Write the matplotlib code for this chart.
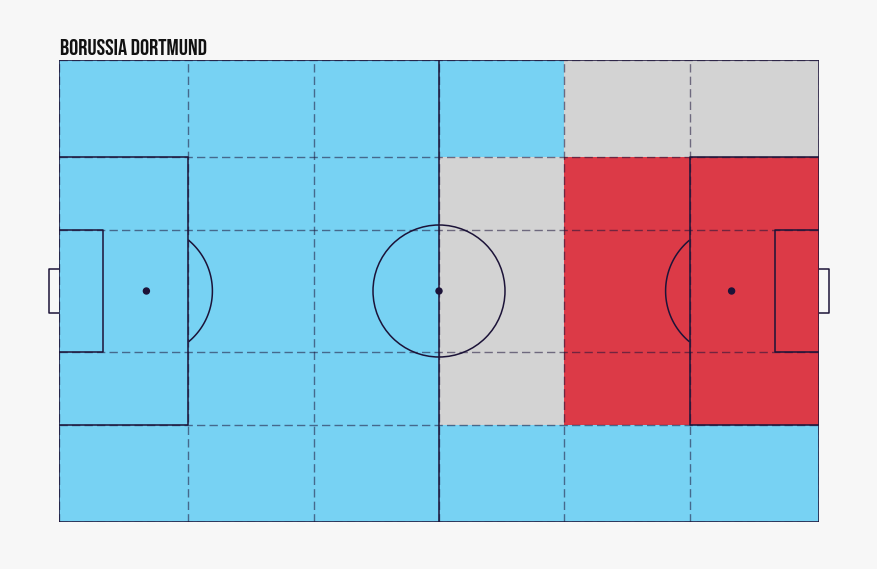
import numpy as np
import matplotlib
matplotlib.use("Agg")
import matplotlib.pyplot as plt
from matplotlib.patches import Rectangle, Ellipse
from matplotlib import font_manager

# Team and zone layout (Opta 0-100 pitch coordinates)
team_name = "BORUSSIA DORTMUND"
zone_x_edges = [0, 17, 33.5, 50, 66.5, 83, 100]
zone_y_edges = [0, 21.1, 78.9, 100]          # bottom lane, central block, top lane
lane_lines_y = [21.1, 36.8, 63.2, 78.9]

# Zone control per lane (bottom -> top), per vertical zone (left -> right)
zone_control = [
    ["Dortmund", "Dortmund", "Dortmund", "Dortmund", "Dortmund", "Dortmund"],
    ["Dortmund", "Dortmund", "Dortmund", "Contested", "Opponent", "Opponent"],
    ["Dortmund", "Dortmund", "Dortmund", "Dortmund", "Contested", "Contested"],
]
control_colors = {"Dortmund": "#77D2F3", "Contested": "#D3D3D3", "Opponent": "#DC3A47"}

BG = "#F7F7F7"
LINE = "#1C1338"

fig = plt.figure(figsize=(8.78, 5.69), dpi=100)
fig.patch.set_facecolor(BG)
ax = fig.add_axes([59 / 878, 47 / 569, 760 / 878, 462 / 569])
ax.set_xlim(0, 100)
ax.set_ylim(0, 100)
ax.axis("off")

# pixel scales so circular markings stay round
px_x = 760 / 100
px_y = 462 / 100
r_px = 66
rx, ry = r_px / px_x, r_px / px_y

# Zone fills
for i, row in enumerate(zone_control):
    for j, cat in enumerate(row):
        x0, x1 = zone_x_edges[j], zone_x_edges[j + 1]
        y0, y1 = zone_y_edges[i], zone_y_edges[i + 1]
        ax.add_patch(Rectangle((x0, y0), x1 - x0, y1 - y0, facecolor=control_colors[cat],
                               edgecolor="none", zorder=1))

lw = 1.1
kw = dict(color=LINE, lw=lw, zorder=3, solid_capstyle="butt")
# Outline and halfway line
ax.plot([0, 100, 100, 0, 0], [0, 0, 100, 100, 0], **kw)
ax.plot([50, 50], [0, 100], **kw)
# Penalty and six-yard boxes
for side in (0, 1):
    def fx(v):
        return np.asarray(v) if side == 0 else 100 - np.asarray(v)
    ax.plot(fx([0, 17, 17, 0]), [21.1, 21.1, 78.9, 78.9], **kw)
    ax.plot(fx([0, 5.8, 5.8, 0]), [36.8, 36.8, 63.2, 63.2], **kw)
    # goals outside the pitch
    gd = 10 / px_x
    ax.plot(fx([0, -gd, -gd, 0]), [45.2, 45.2, 54.8, 54.8], clip_on=False, **kw)
    # penalty spot
    ax.add_patch(Ellipse((float(fx(11.5)), 50), 6 / px_x, 6 / px_y, color=LINE, zorder=4))
    # penalty arc outside the box
    t = np.linspace(-np.pi / 2, np.pi / 2, 200)
    arc_x = 11.5 + rx * np.cos(t)
    arc_y = 50 + ry * np.sin(t)
    m = arc_x >= 17
    ax.plot(fx(arc_x[m]), arc_y[m], **kw)

# Centre circle and spot
ax.add_patch(Ellipse((50, 50), 2 * rx, 2 * ry, fill=False, edgecolor=LINE, lw=lw, zorder=3))
ax.add_patch(Ellipse((50, 50), 6 / px_x, 6 / px_y, color=LINE, zorder=4))

# Dashed positional grid
dkw = dict(color=LINE, lw=1.0, alpha=0.55, ls=(0, (6, 3)), zorder=5)
for x in zone_x_edges:
    ax.plot([x, x], [0, 100], **dkw)
for y in lane_lines_y + [0, 100]:
    ax.plot([0, 100], [y, y], **dkw)

# Condensed display face for the title
faces = [f for f in font_manager.fontManager.ttflist if f.name == "Big Shoulders Display"]
bold_ok = any(int(f.weight) >= 700 for f in faces if str(f.weight).isdigit())
if bold_ok:
    title_kw = dict(family=["Big Shoulders Display", "DejaVu Sans"], fontweight="heavy", fontsize=16.5)
else:
    title_kw = dict(family=["Bebas Neue", "DejaVu Sans"], fontsize=16.5)
fig.text(60 / 878, 1 - 55 / 569, team_name, color="#111111", ha="left", va="baseline", **title_kw)

fig.savefig("out.png", dpi=100, facecolor=BG)
